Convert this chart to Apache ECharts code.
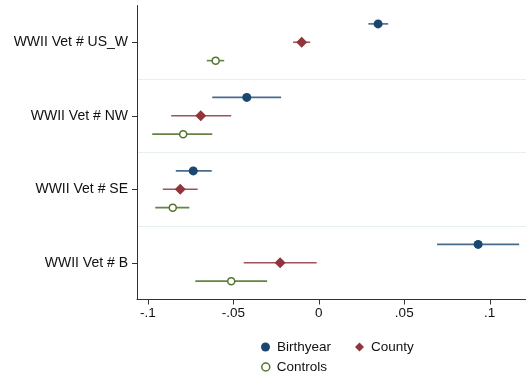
<!DOCTYPE html>
<html><head><meta charset="utf-8">
<script src="https://cdn.jsdelivr.net/npm/echarts@6/dist/echarts.min.js"></script>
<style>html,body{margin:0;padding:0;background:#fff}#c{width:526px;height:377px}</style>
</head><body><div id="c"></div>
<script>
var categories = ['WWII Vet # US_W', 'WWII Vet # NW', 'WWII Vet # SE', 'WWII Vet # B'];
var seriesNames = ['Birthyear', 'County', 'Controls'];
var birthyearEst = [0.0347, -0.0421, -0.0734, 0.0932];
var birthyearLo  = [0.0290, -0.0623, -0.0836, 0.0692];
var birthyearHi  = [0.0406, -0.0220, -0.0626, 0.1172];
var countyEst = [-0.0100, -0.0690, -0.0810, -0.0226];
var countyLo  = [-0.0150, -0.0863, -0.0912, -0.0439];
var countyHi  = [-0.0050, -0.0512, -0.0708, -0.0012];
var controlsEst = [-0.0603, -0.0793, -0.0854, -0.0512];
var controlsLo  = [-0.0655, -0.0974, -0.0956, -0.0722];
var controlsHi  = [-0.0553, -0.0623, -0.0757, -0.0302];
var xTicks = [-0.1, -0.05, 0, 0.05, 0.1];

var colors = ['#1a476f', '#90353b', '#55752f'];
var ciColors = ['rgba(26,71,111,0.8)', 'rgba(144,53,59,0.85)', 'rgba(85,117,47,0.9)'];
var offsets = [-0.25, 0, 0.25];
var ests = [birthyearEst, countyEst, controlsEst];
var los = [birthyearLo, countyLo, controlsLo];
var his = [birthyearHi, countyHi, controlsHi];
var FONT = 'Liberation Sans, Arial, sans-serif';

function fmt(v){
  var s = (Math.round(v*1000)/1000).toString();
  return s.replace(/^(-?)0\./, '$1.');
}

var series = [];
for (var k = 0; k < 3; k++) {
  (function(k){
    var ciData = categories.map(function(c, i){ return [los[k][i], his[k][i], i + 1 + offsets[k]]; });
    series.push({
      type: 'custom', name: seriesNames[k] + ' CI', xAxisIndex: 0, yAxisIndex: 1, silent: true,
      renderItem: function(params, api){
        var p1 = api.coord([api.value(0), api.value(2)]);
        var p2 = api.coord([api.value(1), api.value(2)]);
        return { type: 'line', shape: {x1: p1[0], y1: p1[1], x2: p2[0], y2: p2[1]},
                 style: {stroke: ciColors[k], lineWidth: 1.6} };
      },
      data: ciData, z: 2
    });
  })(k);
}
var symbols = ['circle', 'diamond', 'circle'];
var sizes = [9, 11, 7];
for (var k = 0; k < 3; k++) {
  series.push({
    type: 'scatter', name: seriesNames[k], xAxisIndex: 0, yAxisIndex: 1,
    symbol: symbols[k], symbolSize: sizes[k],
    itemStyle: k === 2 ? {color: '#fff', borderColor: colors[2], borderWidth: 1.5, opacity: 1} : {color: colors[k], opacity: 1},
    data: categories.map(function(c, i){ return [ests[k][i], i + 1 + offsets[k]]; }),
    z: 5,
    markLine: k === 0 ? {
      silent: true, symbol: 'none', label: {show: false}, z: 1,
      lineStyle: {color: '#e6eef2', type: 'solid', width: 1.2, opacity: 1},
      data: [{yAxis: 1.5}, {yAxis: 2.5}, {yAxis: 3.5}]
    } : undefined
  });
}

var chart = echarts.init(document.getElementById('c'), null, {renderer: 'canvas'});
chart.setOption({
  backgroundColor: '#ffffff',
  animation: false,
  textStyle: {fontFamily: FONT},
  grid: {left: 137, right: 0, top: 5.5, bottom: 77.5, containLabel: false},
  legend: [
    {data: [{name: 'Birthyear', icon: 'circle', itemStyle: {color: colors[0]}},
            {name: 'County', icon: 'diamond', itemStyle: {color: colors[1]}}],
     left: 256, top: 335, itemWidth: 9, itemHeight: 9, itemGap: 24,
     textStyle: {fontSize: 13.5, color: '#111', fontFamily: FONT, padding: [0,0,0,2]}},
    {data: [{name: 'Controls', icon: 'circle', itemStyle: {color: '#fff', borderColor: colors[2], borderWidth: 1.5}}],
     left: 256, top: 355, itemWidth: 8, itemHeight: 8,
     textStyle: {fontSize: 13.5, color: '#111', fontFamily: FONT, padding: [0,0,0,2]}}
  ],
  xAxis: [{
    type: 'value', min: -0.1063, max: 0.1212, z: 10,
    axisLine: {show: true, onZero: false, lineStyle: {color: '#333', width: 1}},
    axisTick: {show: true, length: 5, customValues: xTicks, lineStyle: {color: '#333'}},
    axisLabel: {customValues: xTicks, formatter: fmt, fontSize: 13.5, color: '#111', margin: 7, fontFamily: FONT},
    splitLine: {show: false}
  }],
  yAxis: [{
    type: 'category', data: categories, inverse: true, boundaryGap: true, z: 10,
    axisLine: {show: true, onZero: false, lineStyle: {color: '#333', width: 1}},
    axisTick: {show: true, alignWithLabel: true, length: 5, lineStyle: {color: '#333'}},
    axisLabel: {fontSize: 14, color: '#111', margin: 9, fontFamily: FONT},
    splitLine: {show: false}
  }, {
    type: 'value', min: 0.5, max: 4.5, inverse: true, show: false,
    splitLine: {show: false}
  }],
  series: series
});
</script></body></html>
